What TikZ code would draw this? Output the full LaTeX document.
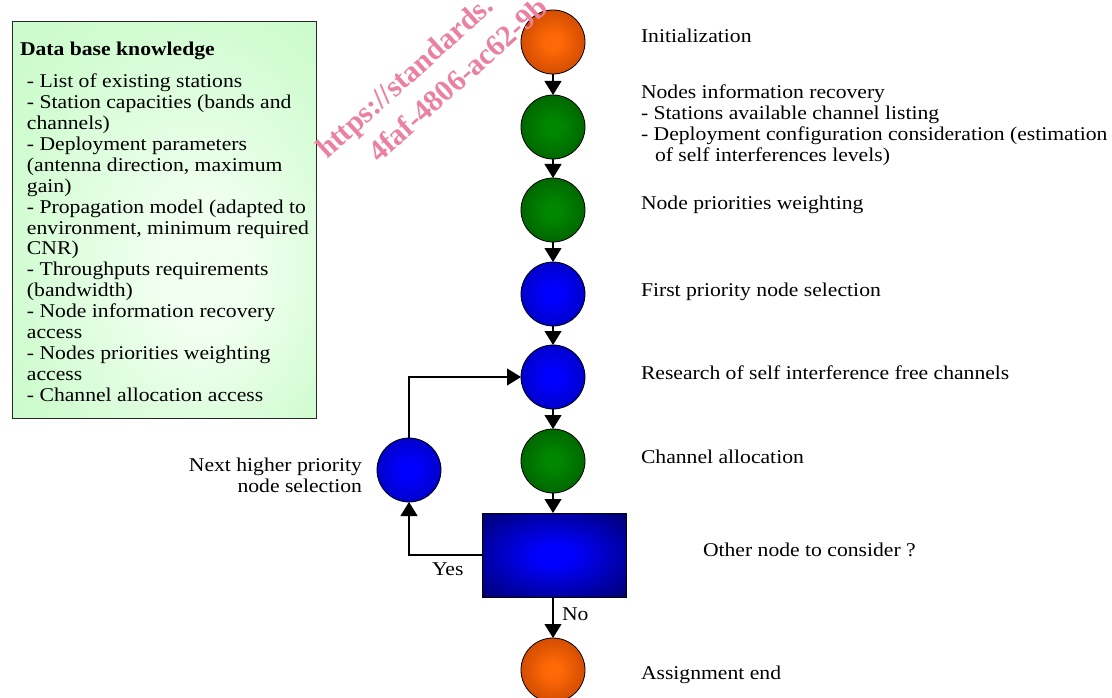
\documentclass[tikz,border=0pt]{standalone}
\usepackage{fontspec}
\setmainfont{Liberation Serif}[FakeStretch=1.11]
\newfontfamily\wmfont{Liberation Serif}
\usetikzlibrary{arrows.meta}

\definecolor{orC}{RGB}{255,104,6}
\definecolor{orM}{RGB}{200,70,0}
\definecolor{orE}{RGB}{100,30,0}
\definecolor{grC}{RGB}{0,135,0}
\definecolor{grM}{RGB}{0,95,0}
\definecolor{grE}{RGB}{0,36,0}
\definecolor{blC}{RGB}{0,0,255}
\definecolor{blM}{RGB}{0,0,190}
\definecolor{blE}{RGB}{0,0,90}
\definecolor{boxC}{RGB}{240,255,240}
\definecolor{boxM}{RGB}{208,252,208}
\definecolor{boxE}{RGB}{198,248,198}
\definecolor{wmark}{RGB}{236,128,160}

% ball-like radial shadings
\pgfdeclareradialshading{orangeball}{\pgfpointorigin}{color(0bp)=(orC); color(6bp)=(orC); color(30bp)=(orM); color(50bp)=(orE)}
\pgfdeclareradialshading{greenball}{\pgfpointorigin}{color(0bp)=(grC); color(6bp)=(grC); color(30bp)=(grM); color(50bp)=(grE)}
\pgfdeclareradialshading{blueball}{\pgfpointorigin}{color(0bp)=(blC); color(6bp)=(blC); color(30bp)=(blM); color(50bp)=(blE)}
\pgfdeclareradialshading{rectglow}{\pgfpointorigin}{color(0bp)=(blC); color(6bp)=(blC); color(40bp)=(blE); color(50bp)=(blE)}
\pgfdeclareradialshading{boxglow}{\pgfpoint{8bp}{-8bp}}{color(0bp)=(boxC); color(8bp)=(boxC); color(30bp)=(boxM); color(50bp)=(boxE)}

\tikzset{
  every node/.style={font=\fontsize{19.5}{20.9}\selectfont, inner sep=0pt, outer sep=0pt},
  ball/.style={circle, minimum size=64pt, draw=black, line width=0.8pt, shading=#1},
  flow/.style={line width=1.2pt, -{Triangle[width=17pt,length=14pt]}},
  lbl/.style={anchor=west, text height=13pt, text depth=4pt},
  blk/.style={anchor=north west, align=left},
  wm/.style={anchor=base west, rotate=42, text=wmark, font=\wmfont\fontsize{30}{32}\selectfont\bfseries},
}

\begin{document}
\begin{tikzpicture}[x=1pt,y=-1pt]
\useasboundingbox (0,0) rectangle (1112,698);

% knowledge box
\node[draw={rgb,255:red,40;green,40;blue,40}, line width=1pt, shading=boxglow,
      minimum width=304pt, minimum height=396pt, anchor=north west] (kb) at (12,22) {};
\node[anchor=west, text height=13pt, text depth=4pt, font=\fontsize{19.5}{20.9}\selectfont\bfseries] (kbt) at (20,51.5) {Data base knowledge};
\node[blk] (kbl) at (27,74) {- List of existing stations\\
- Station capacities (bands and\\
channels)\\
- Deployment parameters\\
(antenna direction, maximum\\
gain)\\
- Propagation model (adapted to\\
environment, minimum required\\
CNR)\\
- Throughputs requirements\\
(bandwidth)\\
- Node information recovery\\
access\\
- Nodes priorities weighting\\
access\\
- Channel allocation access};

% process chain
\node[ball=orangeball] (init) at (553,42) {};
\node[ball=greenball]  (nir)  at (553,127) {};
\node[ball=greenball]  (npw)  at (553,210) {};
\node[ball=blueball]   (fps)  at (553,294) {};
\node[ball=blueball]   (rsf)  at (553,377) {};
\node[ball=greenball]  (cha)  at (553,461) {};
\node[ball=blueball]   (nxt)  at (409,470) {};
\node[draw=black, line width=0.8pt, shading=rectglow, minimum width=144pt, minimum height=84pt] (dec) at (554,555) {};
\node[ball=orangeball] (fin)  at (553,670) {};

\draw[flow] (init) -- (nir);
\draw[flow] (nir) -- (npw);
\draw[flow] (npw) -- (fps);
\draw[flow] (fps) -- (rsf);
\draw[flow] (rsf) -- (cha);
\draw[flow] (cha.south) -- (dec.north -| cha.south);
\draw[flow] (dec.west) -| (nxt.south);
\draw[flow] (nxt.north) |- (rsf.west);
\draw[flow] (dec.south -| fin.north) -- (fin.north);

% labels
\node[lbl] (tinit) at (641,38.5) {Initialization};
\node[blk] (tnir) at (641,85) {Nodes information recovery\\
- Stations available channel listing\\
- Deployment configuration consideration (estimation\\
\hspace*{14pt}of self interferences levels)};
\node[lbl] (tnpw) at (641,205.5) {Node priorities weighting};
\node[lbl] (tfps) at (641,291.5) {First priority node selection};
\node[lbl] (trsf) at (641,374.5) {Research of self interference free channels};
\node[lbl] (tcha) at (641,458.5) {Channel allocation};
\node[lbl] (tdec) at (703,551.5) {Other node to consider ?};
\node[lbl] (tfin) at (641,674.5) {Assignment end};
\node[anchor=north east, align=right] (tnxt) at (362,458) {Next higher priority\\node selection};
\node[lbl] (tyes) at (432,570.5) {Yes};
\node[lbl] (tno) at (562,615.5) {No};

% watermark
\node[wm] (wm1) at (327,160) {https://standards.};
\node[wm] (wm2) at (379,164) {4faf-4806-ac62-9b};
\end{tikzpicture}
\end{document}
